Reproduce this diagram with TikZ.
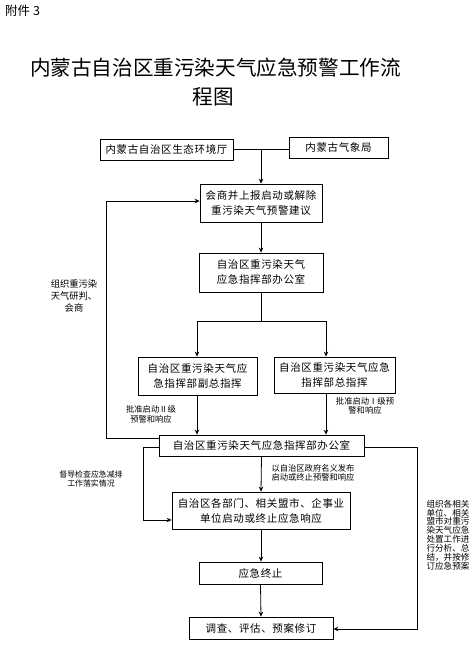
\documentclass[tikz,border=0pt]{standalone}
\usepackage{fontspec}
\setmainfont{Noto Sans CJK SC}
\newfontfamily\cjk{Noto Sans CJK SC}
\newfontfamily\cjkls[LetterSpace=6]{Noto Sans CJK SC}
\usetikzlibrary{arrows.meta}
\newcommand\boxfont{\fontsize{10.5}{15}\selectfont\cjkls}
\newcommand\labfont{\fontsize{8.3}{9.3}\selectfont\cjk}
\tikzset{
  box/.style={draw, line width=0.8pt, inner sep=0pt, align=center, font=\boxfont},
  lab/.style={inner sep=0pt, align=center, font=\labfont},
  arr/.style={-{Stealth[length=5pt,width=4.5pt]}, line width=0.8pt},
  ln/.style={line width=0.8pt}
}
\begin{document}
\begin{tikzpicture}[x=1pt,y=-1pt]
\useasboundingbox[fill=white] (0,0) rectangle (476,649);
% titles
\node[anchor=west, inner sep=0pt, font=\fontsize{12.5}{14}\selectfont\cjk] (att) at (5,11) {附件 3};
\node[inner sep=0pt, font=\fontsize{20.6}{24}\selectfont\cjk] (t1) at (215.5,67.5) {内蒙古自治区重污染天气应急预警工作流};
\node[inner sep=0pt, font=\fontsize{20.6}{24}\selectfont\cjk] (t2) at (213,97) {程图};
% boxes
\node[box, minimum width=133pt, minimum height=21pt] (b1) at (166.5,149.5) {内蒙古自治区生态环境厅};
\node[box, minimum width=99pt, minimum height=21pt] (b2) at (338.5,147.5) {内蒙古气象局};
\node[box, minimum width=122pt, minimum height=38pt] (b3) at (261,203) {会商并上报启动或解除\\重污染天气预警建议};
\node[box, minimum width=124pt, minimum height=39pt] (b4) at (261,272.5) {自治区重污染天气\\应急指挥部办公室};
\node[box, minimum width=119pt, minimum height=38pt] (b5) at (197.5,376) {自治区重污染天气应\\急指挥部副总指挥};
\node[box, minimum width=121pt, minimum height=36pt] (b6) at (334.5,375) {自治区重污染天气应急\\指挥部总指挥};
\node[box, minimum width=205pt, minimum height=21pt] (b7) at (261.5,445.5) {自治区重污染天气应急指挥部办公室};
\node[box, minimum width=178pt, minimum height=37pt] (b8) at (261,510.5) {自治区各部门、相关盟市、企事业\\单位启动或终止应急响应};
\node[box, minimum width=123pt, minimum height=22pt] (b9) at (260.5,573) {应急终止};
\node[box, minimum width=144pt, minimum height=22pt] (b10) at (261,628) {调查、评估、预案修订};
% labels
\node[lab, font=\fontsize{9.3}{11.8}\selectfont\cjk] (la1) at (74,296) {组织重污染\\天气研判、\\会商};
\node[lab] (la2) at (151,414.5) {批准启动Ⅱ级\\预警和响应};
\node[lab] (la3) at (365,406) {批准启动Ⅰ级预\\警和响应};
\node[lab, align=left] (la4) at (313,472.5) {以自治区政府名义发布\\启动或终止预警和响应};
\node[lab, font=\fontsize{7.9}{8.8}\selectfont\cjk] (la5) at (91,479) {督导检查应急减排\\工作落实情况};
\node[lab, align=left, font=\fontsize{8.6}{8.9}\selectfont\cjk] (la6) at (448,535) {组织各相关\\单位、相关\\盟市对重污\\染天气应急\\处置工作进\\行分析、总\\结，并按修\\订应急预案};
% connectors
\draw[ln] (b1.east) -- (b2.west |- b1.east);
\coordinate (j1) at (b1.east -| b3.north);
\draw[arr] (j1) -- (b3.north);
\draw[arr] (b3.south) -- (b4.north);
\coordinate (j2) at (261,321);
\coordinate (p5) at (197,321);
\coordinate (p6) at (326,321);
\draw[ln] (b4.south) -- (j2);
\draw[ln] (p5) -- (p6);
\draw[arr] (p5) -- (p5 |- b5.north);
\draw[arr] (p6) -- (p6 |- b6.north);
\draw[arr] (p5 |- b5.south) -- (p5 |- b7.north);
\draw[arr] (p6 |- b6.south) -- (p6 |- b7.north);
\coordinate (l1) at (106,438);
\coordinate (l1t) at (106,201);
\draw[arr] (b7.west |- l1) -- (l1) -- (l1t) -- (b3.west |- l1t);
\coordinate (l2) at (143,447);
\coordinate (l2b) at (143,520);
\draw[arr] (b7.west |- l2) -- (l2) -- (l2b) -- (b8.west |- l2b);
\coordinate (r1) at (417,447);
\coordinate (r2) at (417,629);
\draw[arr] (b7.east |- r1) -- (r1) -- (r2) -- (b10.east |- r2);
\draw[arr] (b7.south) -- (b8.north);
\draw[arr] (b8.south) -- (b8.south |- b9.north);
\draw[arr] (b9.south) -- (b10.north);
\end{tikzpicture}
\end{document}
